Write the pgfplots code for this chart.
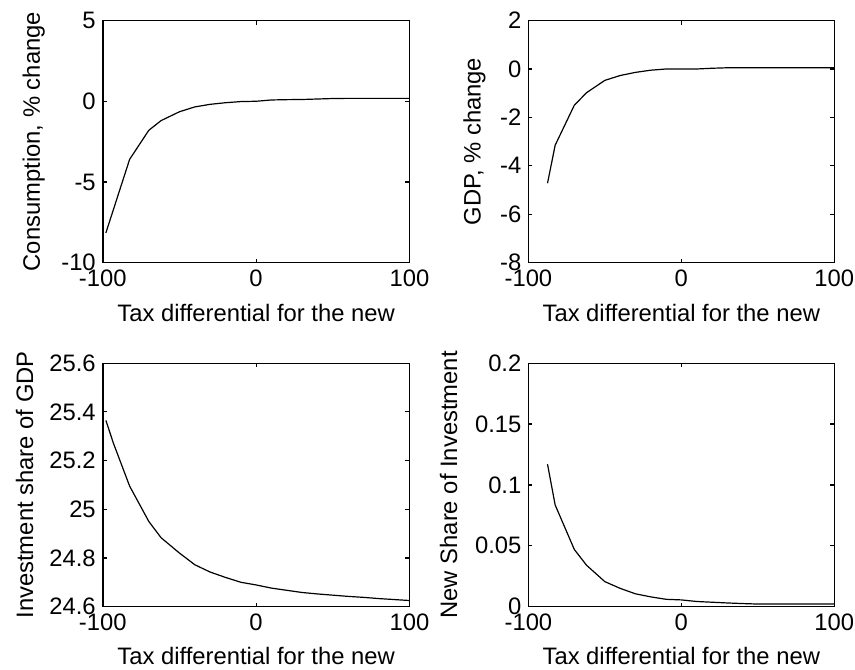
\documentclass[border=0pt]{standalone}
\usepackage{fontspec}
\setmainfont{Liberation Sans}
\usepackage{pgfplots}
\pgfplotsset{compat=1.18}

% one px of the reference = 0.5pt
\pgfplotsset{
  mat/.style={
    scale only axis, anchor=south west,
    xmin=-100, xmax=100,
    xtick={-100,0,100}, xticklabels={-100,0,100},
    tick align=inside, major tick length=2pt,
    axis line style={line width=0.7pt},
    every tick/.style={black, line width=0.6pt},
    font=\fontsize{11.9}{14}\selectfont,
    scaled ticks=false,
    xlabel={Tax differential for the new},
    xlabel style={at={(axis description cs:0.5,-0.245)}, anchor=base},
    clip=false,
  },
  curve/.style={black, line width=0.6pt, mark=none},
}

\begin{document}
\begin{tikzpicture}
\useasboundingbox (0,0) rectangle (427.5pt,334.5pt);

% consumption
\begin{axis}[mat, at={(51.4pt,203.2pt)}, width=153.3pt, height=121pt,
  ymin=-10, ymax=5, ytick={-10,-5,0,5}, yticklabels={-10,-5,0,5},
  ylabel={Consumption, \% change},
  ylabel style={at={(axis description cs:-0.225,0.5)}, anchor=center}]
\addplot[curve] coordinates {
  (-98,-8.16) (-82.5,-3.6) (-70,-1.8) (-62,-1.2) (-50,-0.65) (-40,-0.35)
  (-30,-0.19) (-20,-0.09) (-10,-0.02) (0,0) (10,0.08) (20,0.1) (30,0.11)
  (40,0.14) (50,0.17) (60,0.18) (70,0.18) (80,0.18) (90,0.18) (100,0.18)
};
\end{axis}

% GDP
\begin{axis}[mat, at={(264.2pt,203.2pt)}, width=152.9pt, height=121pt,
  ymin=-8, ymax=2, ytick={-8,-6,-4,-2,0,2}, yticklabels={-8,-6,-4,-2,0,2},
  ylabel={GDP, \% change},
  ylabel style={at={(axis description cs:-0.176,0.5)}, anchor=center}]
\addplot[curve] coordinates {
  (-87.5,-4.72) (-82.5,-3.15) (-70,-1.5) (-62,-0.98) (-50,-0.47) (-40,-0.27)
  (-30,-0.14) (-20,-0.05) (-10,0) (0,0) (10,0) (20,0.03) (30,0.05)
  (40,0.05) (50,0.05) (60,0.05) (70,0.05) (80,0.05) (90,0.05) (100,0.05)
};
\end{axis}

% investment share
\begin{axis}[mat, at={(51.4pt,31.2pt)}, width=153.3pt, height=121.7pt,
  ymin=24.6, ymax=25.6, ytick={24.6,24.8,25,25.2,25.4,25.6},
  yticklabels={24.6,24.8,25,25.2,25.4,25.6},
  xlabel style={at={(axis description cs:0.5,-0.238)}},
  ylabel={Investment share of GDP},
  ylabel style={at={(axis description cs:-0.255,0.5)}, anchor=center}]
\addplot[curve] coordinates {
  (-98,25.365) (-93,25.27) (-82.5,25.095) (-70,24.95) (-62,24.883)
  (-50,24.82) (-40,24.772) (-30,24.742) (-20,24.72) (-10,24.70) (0,24.689)
  (10,24.676) (20,24.667) (30,24.658) (40,24.652) (50,24.647) (60,24.642)
  (70,24.638) (80,24.633) (90,24.629) (100,24.625)
};
\end{axis}

% new share
\begin{axis}[mat, at={(264.2pt,31.2pt)}, width=152.9pt, height=121.7pt,
  ymin=0, ymax=0.2, ytick={0,0.05,0.1,0.15,0.2},
  yticklabels={0,0.05,0.1,0.15,0.2},
  xlabel style={at={(axis description cs:0.5,-0.238)}},
  ylabel={New Share of Investment},
  ylabel style={at={(axis description cs:-0.261,0.5)}, anchor=center}]
\addplot[curve] coordinates {
  (-87.5,0.117) (-82.5,0.0835) (-70,0.047) (-62,0.034) (-50,0.0205)
  (-40,0.015) (-30,0.0105) (-20,0.008) (-10,0.006) (0,0.0055) (10,0.0042)
  (20,0.0036) (30,0.003) (40,0.0025) (50,0.0021) (60,0.0021) (70,0.0021)
  (80,0.0021) (90,0.0021) (100,0.0021)
};
\end{axis}
\end{tikzpicture}
\end{document}
